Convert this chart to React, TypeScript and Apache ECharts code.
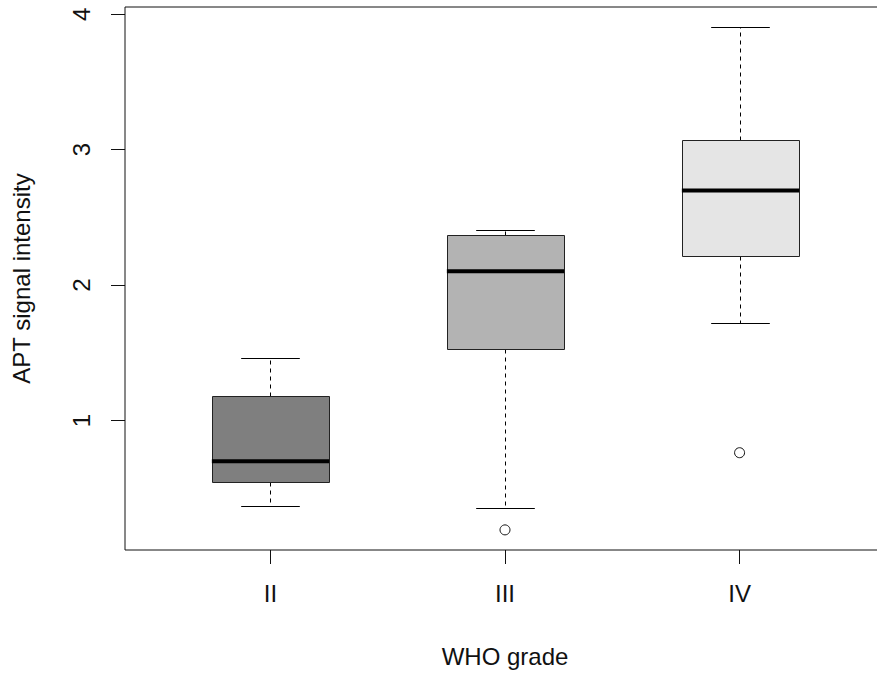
import React, { useEffect, useRef } from "react";
import * as echarts from "echarts";

// WHO grade groups and their box-and-whisker summaries (APT signal intensity)
const grades = ["II", "III", "IV"];
const whiskerLow = [0.367, 0.357, 1.717];
const quartile1 = [0.545, 1.529, 2.218];
const medians = [0.698, 2.102, 2.699];
const quartile3 = [1.179, 2.373, 3.072];
const whiskerHigh = [1.458, 2.406, 3.905];

// points beyond the whiskers
const outlierGrades = ["III", "IV"];
const outlierValues = [0.192, 0.762];

const yTicks = [1, 2, 3, 4];

const boxFills = ["#7f7f7f", "#b3b3b3", "#e5e5e5"];
const FONT = "'Liberation Sans', Arial, sans-serif";
const INK = "#111";

// the plotting region runs past the right edge of the visible page
const VIEW_W = 877;
const VIEW_H = 673;
const CANVAS_W = 900;

export default function App() {
  const ref = useRef<HTMLDivElement>(null);

  useEffect(() => {
    if (!ref.current) return;
    const chart = echarts.init(ref.current, null, { renderer: "svg" });

    // base-graphics style range: data extent padded by 4% on each side
    const all = [...whiskerLow, ...whiskerHigh, ...outlierValues];
    const lo = Math.min(...all);
    const hi = Math.max(...all);
    const pad = (hi - lo) * 0.04;
    const xPad = grades.length * 0.04;

    const boxRows = grades.map((_, i) => [
      i + 1,
      whiskerLow[i],
      quartile1[i],
      medians[i],
      quartile3[i],
      whiskerHigh[i],
    ]);
    const outlierRows = outlierGrades.map((g, i) => [
      grades.indexOf(g) + 1,
      outlierValues[i],
    ]);

    const BOX_W = 0.5; // box width in x units
    const STAPLE_W = 0.25;
    const snap = (v: number) => Math.round(v) + 0.5;

    chart.setOption({
      animation: false,
      backgroundColor: "#ffffff",
      grid: {
        left: 125,
        right: CANVAS_W - 885,
        top: 7,
        bottom: 123,
        show: true,
        borderColor: INK,
        borderWidth: 1,
        backgroundColor: "transparent",
      },
      xAxis: {
        type: "value",
        min: 0.5 - xPad,
        max: grades.length + 0.5 + xPad,
        name: "WHO grade",
        nameLocation: "middle",
        nameGap: 94,
        nameTextStyle: { fontFamily: FONT, fontSize: 24, color: INK },
        axisLine: { show: false },
        splitLine: { show: false },
        axisTick: {
          show: true,
          length: 14,
          customValues: grades.map((_, i) => i + 1),
          lineStyle: { color: INK, width: 1 },
        },
        axisLabel: {
          customValues: grades.map((_, i) => i + 1),
          formatter: (v: number) => grades[Math.round(v) - 1] ?? "",
          margin: 31,
          fontFamily: FONT,
          fontSize: 24,
          color: INK,
        },
      },
      yAxis: {
        type: "value",
        min: lo - pad,
        max: hi + pad,
        name: "APT signal intensity",
        nameLocation: "middle",
        nameGap: 92,
        nameTextStyle: { fontFamily: FONT, fontSize: 24, color: INK },
        axisLine: { show: false },
        splitLine: { show: false },
        axisTick: {
          show: true,
          length: 14,
          customValues: yTicks,
          lineStyle: { color: INK, width: 1 },
        },
        axisLabel: {
          customValues: yTicks,
          rotate: 90,
          margin: 32,
          fontFamily: FONT,
          fontSize: 24,
          color: INK,
        },
      },
      series: [
        {
          type: "custom",
          data: boxRows,
          encode: { x: 0, y: [1, 2, 3, 4, 5] },
          renderItem: (params: any, api: any) => {
            const x = api.value(0);
            const pLo = api.coord([x, api.value(1)]);
            const pQ1 = api.coord([x, api.value(2)]);
            const pMed = api.coord([x, api.value(3)]);
            const pQ3 = api.coord([x, api.value(4)]);
            const pHi = api.coord([x, api.value(5)]);
            const halfBox = api.size([BOX_W, 0])[0] / 2;
            const halfStaple = api.size([STAPLE_W, 0])[0] / 2;
            const cx = snap(pMed[0]);
            const yLo = snap(pLo[1]);
            const yHi = snap(pHi[1]);
            const yQ1 = snap(pQ1[1]);
            const yQ3 = snap(pQ3[1]);
            const dashed = { stroke: "#000", lineWidth: 1, lineDash: [4, 4] };
            const solid = { stroke: "#000", lineWidth: 1 };
            return {
              type: "group",
              children: [
                {
                  type: "line",
                  shape: { x1: cx, y1: yQ3, x2: cx, y2: yHi },
                  style: dashed,
                },
                {
                  type: "line",
                  shape: { x1: cx, y1: yQ1, x2: cx, y2: yLo },
                  style: dashed,
                },
                {
                  type: "line",
                  shape: { x1: cx - halfStaple, y1: yHi, x2: cx + halfStaple, y2: yHi },
                  style: solid,
                },
                {
                  type: "line",
                  shape: { x1: cx - halfStaple, y1: yLo, x2: cx + halfStaple, y2: yLo },
                  style: solid,
                },
                {
                  type: "rect",
                  shape: {
                    x: snap(cx - halfBox),
                    y: yQ3,
                    width: Math.round(halfBox * 2),
                    height: yQ1 - yQ3,
                  },
                  style: { fill: boxFills[params.dataIndex], stroke: "#222", lineWidth: 1 },
                },
                {
                  type: "line",
                  shape: { x1: cx - halfBox, y1: pMed[1], x2: cx + halfBox, y2: pMed[1] },
                  style: { stroke: "#000", lineWidth: 4 },
                },
              ],
            };
          },
        },
        {
          type: "scatter",
          data: outlierRows,
          symbol: "circle",
          symbolSize: 10,
          itemStyle: { color: "#ffffff", borderColor: INK, borderWidth: 1, opacity: 1 },
        },
      ],
    });

    return () => chart.dispose();
  }, []);

  return (
    <div
      style={{
        position: "fixed",
        left: 0,
        top: 0,
        width: VIEW_W,
        height: VIEW_H,
        overflow: "hidden",
        background: "#fff",
      }}
    >
      <div ref={ref} style={{ width: CANVAS_W, height: VIEW_H }} />
    </div>
  );
}
